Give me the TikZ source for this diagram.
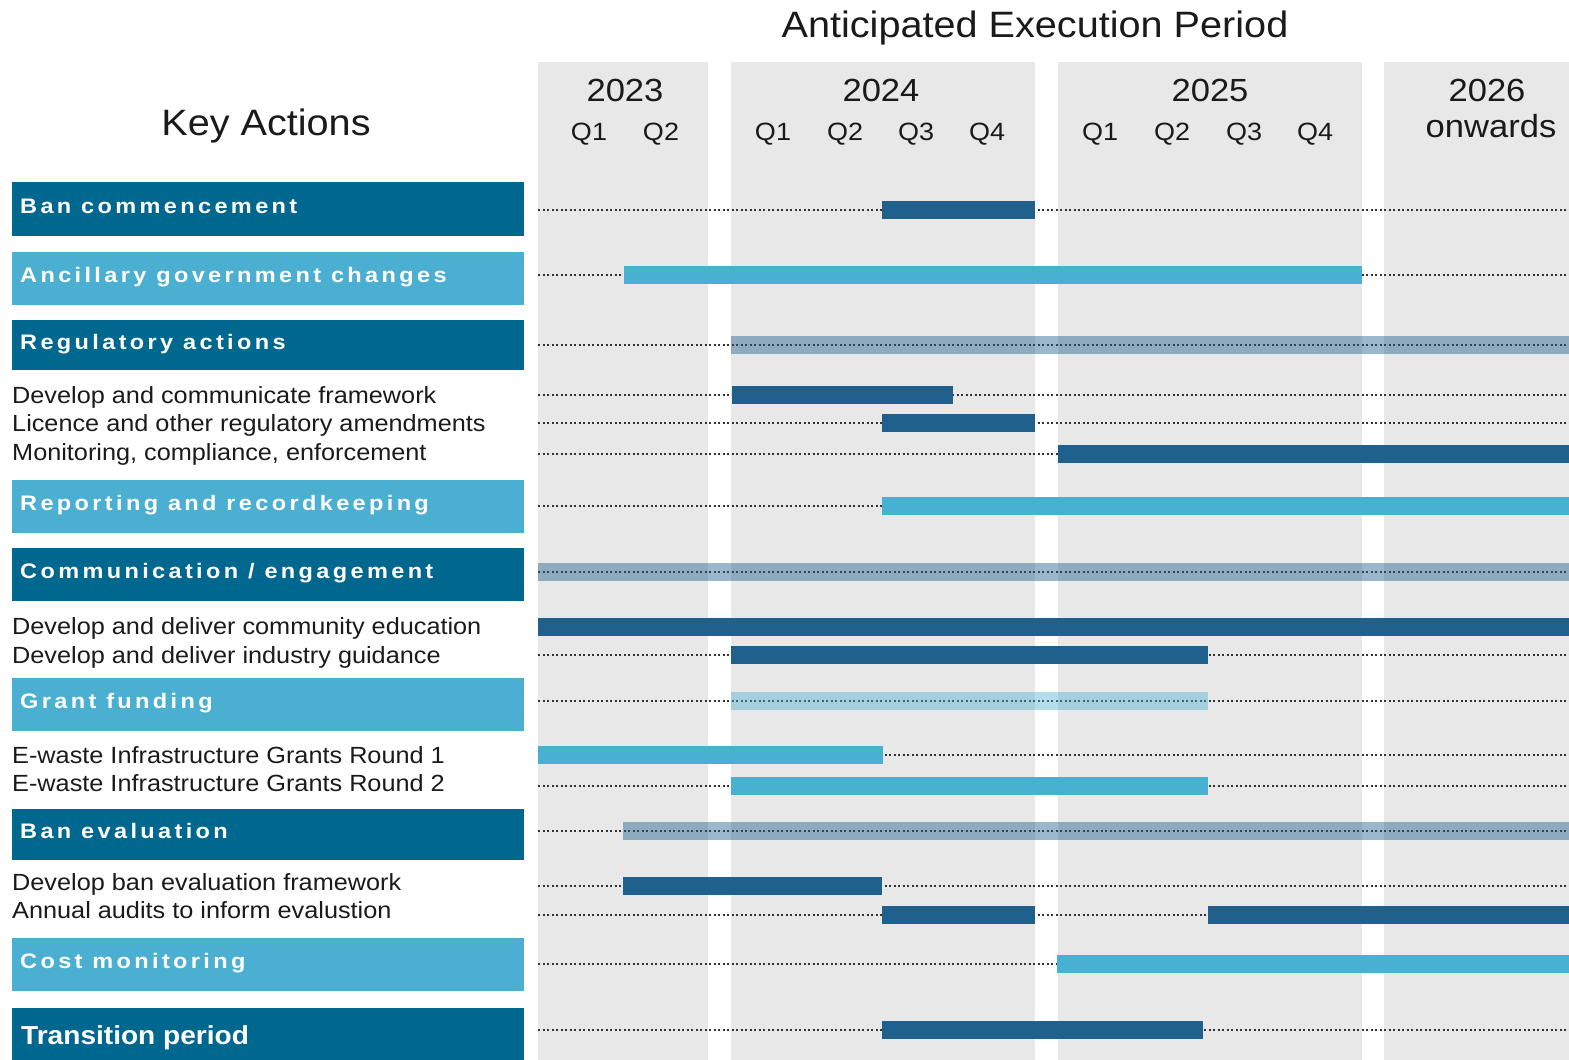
\documentclass[tikz,border=0pt]{standalone}
\usepackage{fontspec}
\setmainfont{Liberation Sans}[FakeStretch=1.08]
\newfontfamily\headfont{Liberation Sans}[FakeStretch=1.12,LetterSpace=16]
\definecolor{colgray}{RGB}{232,232,232}
\definecolor{boxdark}{RGB}{0,103,143}
\definecolor{boxlight}{RGB}{74,175,208}
\definecolor{bardark}{RGB}{31,96,140}
\definecolor{barlight}{RGB}{72,176,209}
\definecolor{txt}{RGB}{26,26,26}
\tikzset{
 yearcol/.style={fill=colgray, draw=none},
 headtext/.style={anchor=base west, inner sep=0pt, text=white, font=\headfont\bfseries\fontsize{21}{25}\selectfont},
 bigtext/.style={anchor=base west, inner sep=0pt, text=white, font=\bfseries\fontsize{26}{31}\selectfont},
 subtext/.style={anchor=base west, inner sep=0pt, text=txt, font=\fontsize{23.4}{28}\selectfont},
 titletext/.style={anchor=base, inner sep=0pt, text=txt, font=\fontsize{36.7}{44}\selectfont},
 yeartext/.style={anchor=base, inner sep=0pt, text=txt, font=\fontsize{32}{38}\selectfont},
 qtext/.style={anchor=base, inner sep=0pt, text=txt, font=\fontsize{25}{30}\selectfont},
 dots/.style={line width=2.2pt, dash pattern=on 2.2pt off 2.3pt, black!80},
 barD/.style={fill=bardark},
 barL/.style={fill=barlight},
 barDt/.style={fill=bardark, fill opacity=0.45},
 barLt/.style={fill=barlight, fill opacity=0.42},
}
\newcommand\ganttrow[2]{%
  \coordinate (#1s) at (538,#2);
  \coordinate (#1e) at (1569,#2);
  \draw[dots] (#1s) -- (#1e);}
\newcommand\gbar[4]{\path[#1] (#2,{#4-9}) rectangle (#3,{#4+9});}
\begin{document}
\begin{tikzpicture}[x=1pt,y=-1pt]
\useasboundingbox (0,0) rectangle (1569,1060);
% year columns
\path[yearcol] (538,62) rectangle (708,1060);
\path[yearcol] (731,62) rectangle (1035,1060);
\path[yearcol] (1058,62) rectangle (1362,1060);
\path[yearcol] (1384,62) rectangle (1569,1060);
% titles
\node[titletext] (title) at (1035,37) {Anticipated Execution Period};
\node[titletext] (keyact) at (266,135) {Key Actions};
% years
\node[yeartext] (y23) at (625,101) {2023};
\node[yeartext] (y24) at (881,101) {2024};
\node[yeartext] (y25) at (1210,101) {2025};
\node[yeartext] (y26) at (1487,101) {2026};
\node[yeartext] (y26b) at (1491,137) {onwards};
% quarters
\node[qtext] (a1) at (589,140) {Q1};
\node[qtext] (a2) at (661,140) {Q2};
\node[qtext] (b1) at (773,140) {Q1};
\node[qtext] (b2) at (845,140) {Q2};
\node[qtext] (b3) at (916,140) {Q3};
\node[qtext] (b4) at (987,140) {Q4};
\node[qtext] (c1) at (1100,140) {Q1};
\node[qtext] (c2) at (1172,140) {Q2};
\node[qtext] (c3) at (1244,140) {Q3};
\node[qtext] (c4) at (1315,140) {Q4};
% dotted rows
\ganttrow{r1}{210}
\ganttrow{r2}{275}
\ganttrow{r3}{345}
\ganttrow{r4}{395}
\ganttrow{r5}{423}
\ganttrow{r6}{454}
\ganttrow{r7}{506}
\ganttrow{r8}{572}
\ganttrow{r9}{627}
\ganttrow{r10}{655}
\ganttrow{r11}{701}
\ganttrow{r12}{755}
\ganttrow{r13}{786}
\ganttrow{r14}{831}
\ganttrow{r15}{886}
\ganttrow{r16}{915}
\ganttrow{r17}{964}
\ganttrow{r18}{1030}
% bars
\gbar{barD}{882}{1035}{210}
\gbar{barL}{624}{1362}{275}
\gbar{barDt}{731}{1569}{345}
\gbar{barD}{732}{953}{395}
\gbar{barD}{882}{1035}{423}
\gbar{barD}{1058}{1569}{454}
\gbar{barL}{882}{1569}{506}
\gbar{barDt}{538}{1569}{572}
\gbar{barD}{538}{1569}{627}
\gbar{barD}{731}{1208}{655}
\gbar{barLt}{731}{1208}{701}
\gbar{barL}{538}{883}{755}
\gbar{barL}{731}{1208}{786}
\gbar{barDt}{623}{1569}{831}
\gbar{barD}{623}{882}{886}
\gbar{barD}{882}{1035}{915}
\gbar{barD}{1208}{1569}{915}
\gbar{barL}{1057}{1569}{964}
\gbar{barD}{882}{1203}{1030}
% heading boxes
\path[fill=boxdark] (12,182) rectangle (524,236);
\path[fill=boxlight] (12,252) rectangle (524,305);
\path[fill=boxdark] (12,320) rectangle (524,370);
\path[fill=boxlight] (12,480) rectangle (524,533);
\path[fill=boxdark] (12,548) rectangle (524,601);
\path[fill=boxlight] (12,678) rectangle (524,731);
\path[fill=boxdark] (12,809) rectangle (524,860);
\path[fill=boxlight] (12,938) rectangle (524,991);
\path[fill=boxdark] (12,1008) rectangle (524,1060);
% heading texts
\node[headtext] (h1) at (20,213) {Ban commencement};
\node[headtext] (h2) at (20,282.5) {Ancillary government changes};
\node[headtext] (h3) at (20,349) {Regulatory actions};
\node[headtext] (h4) at (20,510.5) {Reporting and recordkeeping};
\node[headtext] (h5) at (20,578.5) {Communication / engagement};
\node[headtext] (h6) at (20,708.5) {Grant funding};
\node[headtext] (h7) at (20,838.5) {Ban evaluation};
\node[headtext] (h8) at (20,968.5) {Cost monitoring};
\node[bigtext] (h9) at (21,1044) {Transition period};
% sub items
\node[subtext] (s1) at (12,403) {Develop and communicate framework};
\node[subtext] (s2) at (12,431) {Licence and other regulatory amendments};
\node[subtext] (s3) at (12,460) {Monitoring, compliance, enforcement};
\node[subtext] (s4) at (12,634) {Develop and deliver community education};
\node[subtext] (s5) at (12,663) {Develop and deliver industry guidance};
\node[subtext] (s6) at (12,763) {E-waste Infrastructure Grants Round 1};
\node[subtext] (s7) at (12,791) {E-waste Infrastructure Grants Round 2};
\node[subtext] (s8) at (12,890) {Develop ban evaluation framework};
\node[subtext] (s9) at (12,918) {Annual audits to inform evalustion};
\end{tikzpicture}
\end{document}
